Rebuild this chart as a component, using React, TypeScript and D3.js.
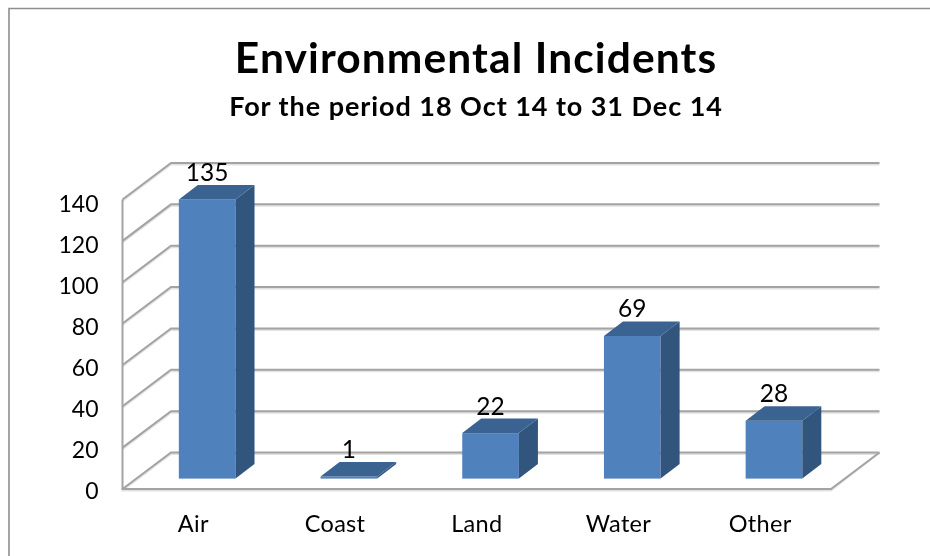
import React from "react";
import * as d3 from "d3";

const categories = ["Air", "Coast", "Land", "Water", "Other"];
const values = [135, 1, 22, 69, 28];
const yTicks = [0, 20, 40, 60, 80, 100, 120, 140];
const titleText = "Environmental Incidents";
const subtitleText = "For the period 18 Oct 14 to 31 Dec 14";

const W = 930, H = 556;
const font = "Lato, 'Noto Sans', sans-serif";
const front = { x0: 122.5, x1: 831, y0: 489 };
const depth = { dx: 48.5, dy: -36.5 };
const barDepth = { f: 0.285, dx: 19, dy: -14.5 };
const grid = "#a3a3a3";
const gridShadow = "#e2e2e2";

export default function App() {
  const x = d3.scaleBand<string>().domain(categories).range([front.x0, front.x1]).paddingInner(0.6).paddingOuter(0.3);
  const yh = d3.scaleLinear().domain([0, 140]).range([0, -289.5]);
  const yLabel = d3.scaleLinear().domain([0, 140]).range([499, 212]);
  const fx = depth.dx * barDepth.f, fy = depth.dy * barDepth.f;
  const pts = (p: number[][]) => p.map((a) => a.join(",")).join(" ");
  return (
    <svg width={W} height={H} style={{ position: "absolute", left: 0, top: 0, background: "#fff" }}>
      <defs>
        <filter id="soft" x="-5%" y="-5%" width="110%" height="110%"><feGaussianBlur stdDeviation="0.45" /></filter>
      </defs>
      <g filter="url(#soft)">
        <path d="M9,556V8.5H930" fill="none" stroke="#8e8e8e" strokeWidth={1.6} />
        {yTicks.map((t) => {
          const y0 = front.y0 + yh(t);
          const bx = front.x0 + depth.dx, by = y0 + depth.dy;
          return (
            <g key={t} fill="none">
              <path d={`M${front.x0},${y0 + 1.5}L${bx},${by + 1.5}H${front.x1 + depth.dx}`} stroke={gridShadow} strokeWidth={2} />
              <path d={`M${front.x0},${y0}L${bx},${by}H${front.x1 + depth.dx}`} stroke={grid} strokeWidth={2} />
            </g>
          );
        })}
        <path d={`M${front.x0},${front.y0 + yh(140)}V${front.y0}`} stroke={grid} strokeWidth={2} fill="none" />
        <path d={`M${front.x0 - 1},${front.y0 + 1.5}H${front.x1}L${front.x1 + depth.dx},${front.y0 + depth.dy}`} stroke={gridShadow} strokeWidth={2} fill="none" />
        <path d={`M${front.x0 - 1},${front.y0}H${front.x1}L${front.x1 + depth.dx},${front.y0 + depth.dy}`} stroke={grid} strokeWidth={2} fill="none" />
        {categories.map((c, i) => {
          const l = x(c)! + fx, r = l + x.bandwidth();
          const b = front.y0 + fy, t = b + yh(values[i]);
          const { dx, dy } = barDepth;
          return (
            <g key={c}>
              <rect x={l} y={t} width={r - l} height={b - t} fill="#4f81bd" />
              <polygon points={pts([[r, t], [r + dx, t + dy], [r + dx, b + dy], [r, b]])} fill="#33547d" />
              <polygon points={pts([[l, t], [l + dx, t + dy], [r + dx, t + dy], [r, t]])} fill="#3b6392" />
            </g>
          );
        })}
      </g>
      <g fontFamily={font} fill="#000" filter="url(#soft)">
        <text x={476} y={72.5} textAnchor="middle" fontWeight={700} fontSize={42.5} letterSpacing={1.1}>{titleText}</text>
        <text x={476} y={116} textAnchor="middle" fontWeight={700} fontSize={27} letterSpacing={0.95}>{subtitleText}</text>
        {yTicks.map((t) => (
          <text key={t} x={98.5} y={yLabel(t)} textAnchor="end" fontSize={23}>{t}</text>
        ))}
        {categories.map((c) => (
          <text key={c} x={x(c)! + x.bandwidth() / 2} y={532} textAnchor="middle" fontSize={23.5} letterSpacing={0.3}>{c}</text>
        ))}
        {categories.map((c, i) => (
          <text key={c} x={x(c)! + fx + x.bandwidth() / 2} y={front.y0 + fy + yh(values[i]) - 18.5} textAnchor="middle" fontSize={24.5}>{values[i]}</text>
        ))}
      </g>
    </svg>
  );
}
